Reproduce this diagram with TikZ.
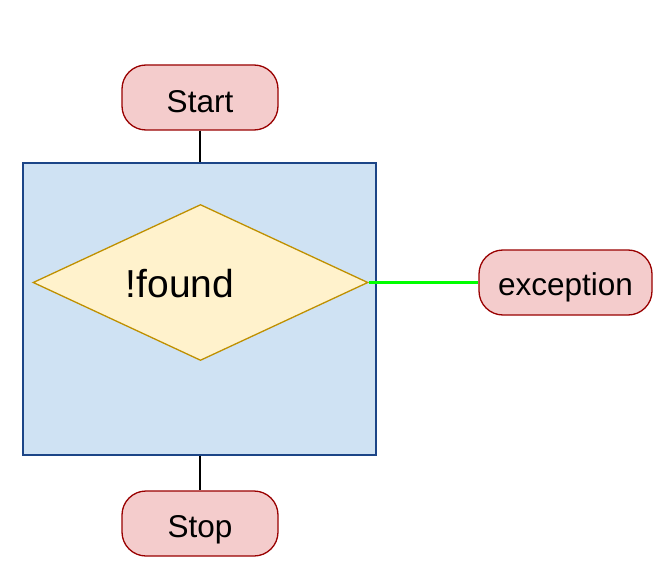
\documentclass[tikz,border=0pt]{standalone}
\usepackage{fontspec}
\setmainfont{Liberation Sans}
\usetikzlibrary{shapes.geometric}
\definecolor{termfill}{HTML}{F4CCCC}
\definecolor{termdraw}{HTML}{990000}
\definecolor{boxfill}{HTML}{CFE2F3}
\definecolor{boxdraw}{HTML}{1C4587}
\definecolor{decfill}{HTML}{FFF2CC}
\definecolor{decdraw}{HTML}{BF9000}
\definecolor{greenline}{HTML}{00FF00}
\tikzset{
  term/.style={draw=termdraw, fill=termfill, line width=1.3pt, rounded corners=24pt,
    minimum width=156pt, minimum height=65pt, inner sep=0pt, text height=31pt, text depth=0pt,
    font=\fontsize{31.5}{36}\selectfont},
  bigbox/.style={draw=boxdraw, fill=boxfill, line width=1.3pt, minimum width=353pt, minimum height=292pt, inner sep=0pt},
  decision/.style={diamond, draw=decdraw, fill=decfill, line width=1.3pt, minimum width=335pt, minimum height=156pt, inner sep=0pt},
  conn/.style={draw=black, line width=1.5pt},
  greenconn/.style={draw=greenline, line width=3.5pt}
}
\begin{document}
\begin{tikzpicture}[x=1pt,y=-1pt]
\useasboundingbox (0,0) rectangle (653,572);
\node[term] (start) at (200,97.5) {Start};
\node[bigbox] (box) at (199.5,309) {};
\node[decision] (dec) at (200.5,282.5) {};
\node[font=\fontsize{39}{44}\selectfont, inner sep=0pt] (foundtxt) at (180,284) {!found};
\node[term, minimum width=173pt, text height=25pt] (exc) at (565.5,282.5) {exception};
\node[term, text height=27pt] (stop) at (200,523.5) {Stop};
\draw[conn] (start.south) -- (box.north -| start.south);
\draw[conn] (box.south -| stop.north) -- (stop.north);
\draw[greenconn] (dec.east) -- (exc.west);
\end{tikzpicture}
\end{document}
